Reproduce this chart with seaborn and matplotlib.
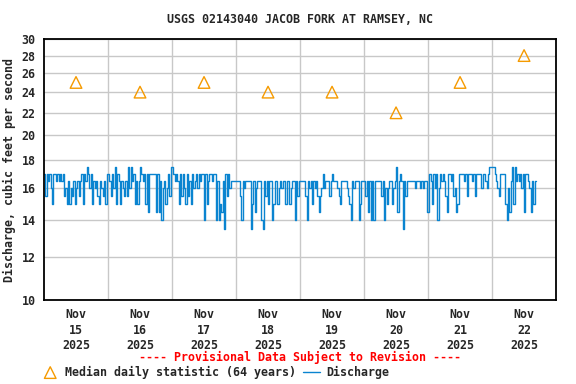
import numpy as np
import pandas as pd
import matplotlib
matplotlib.use("Agg")
import matplotlib.pyplot as plt
import seaborn as sns

# daily median statistic, one per day (plotted at noon)
median_days = ["2025-11-15", "2025-11-16", "2025-11-17", "2025-11-18",
               "2025-11-19", "2025-11-20", "2025-11-21", "2025-11-22"]
median_values = [25, 24, 25, 24, 24, 22, 25, 28]

# discharge, half-hourly, one list per day
day1 = [17.0, 15.5, 17.0, 16.5, 17.0, 16.0, 15.0, 17.0, 17.0, 16.5, 17.0, 16.5,
        17.0, 16.5, 17.0, 15.5, 16.0, 15.0, 16.5, 15.0, 16.0, 15.5, 16.5, 15.0,
        16.0, 16.5, 15.5, 16.5, 17.0, 15.0, 17.0, 16.5, 17.5, 17.0, 16.0, 17.0,
        15.0, 16.5, 16.0, 16.5, 15.5, 15.0, 16.5, 16.0, 15.5, 16.5, 15.0, 17.0]
day2 = [17.0, 16.5, 15.5, 17.0, 16.0, 17.5, 15.0, 17.0, 16.5, 15.0, 16.5, 16.0,
        15.5, 16.5, 15.5, 17.5, 16.0, 17.5, 16.5, 17.0, 15.0, 16.5, 15.0, 16.5,
        17.5, 17.0, 16.5, 17.0, 15.0, 17.0, 14.5, 17.0, 17.0, 17.0, 17.0, 17.0,
        14.5, 17.0, 14.5, 16.5, 14.0, 16.0, 16.5, 15.0, 16.0, 17.0, 15.5, 17.5]
day3 = [17.5, 17.0, 16.5, 17.0, 16.5, 15.0, 17.0, 15.5, 17.0, 16.0, 15.0, 17.0,
        15.5, 16.5, 15.0, 17.0, 16.0, 16.5, 17.0, 16.0, 17.0, 16.5, 17.0, 17.0,
        14.0, 17.0, 15.0, 16.5, 17.0, 17.0, 16.5, 17.0, 17.0, 14.0, 16.5, 14.0,
        15.0, 14.5, 16.5, 13.5, 17.0, 15.5, 17.0, 16.0, 16.5, 16.5, 16.5, 16.5]
day4 = [16.5, 16.5, 16.5, 15.5, 14.0, 16.5, 16.0, 16.5, 16.5, 16.5, 16.5, 13.5,
        15.0, 16.5, 14.5, 16.0, 16.5, 16.5, 16.5, 14.0, 13.5, 16.5, 15.5, 16.5,
        15.0, 16.5, 16.5, 14.0, 15.0, 16.5, 16.5, 15.0, 16.0, 16.5, 16.0, 16.5,
        16.5, 15.0, 16.5, 16.5, 15.0, 16.0, 16.5, 16.5, 14.0, 16.5, 15.5, 16.5]
day5 = [16.5, 16.5, 16.5, 16.5, 15.5, 14.0, 16.5, 16.0, 16.5, 15.0, 16.5, 16.0,
        16.5, 15.5, 14.5, 15.5, 16.0, 17.0, 16.0, 16.5, 16.5, 16.5, 15.5, 16.5,
        17.0, 16.5, 16.5, 16.5, 16.0, 15.5, 15.0, 16.5, 16.5, 16.5, 16.5, 16.0,
        15.5, 15.0, 14.0, 16.5, 16.0, 16.5, 16.5, 16.5, 14.0, 15.0, 16.5, 16.5]
day6 = [16.5, 15.5, 16.5, 14.5, 16.5, 14.0, 16.5, 14.0, 16.5, 16.5, 16.5, 16.5,
        16.5, 15.5, 16.5, 14.0, 16.0, 15.0, 16.0, 16.5, 16.5, 15.0, 16.0, 16.5,
        17.5, 14.5, 16.5, 17.0, 16.5, 13.5, 16.5, 15.5, 16.5, 16.5, 16.5, 16.5,
        16.5, 16.5, 16.0, 16.5, 16.5, 16.5, 16.0, 16.5, 16.0, 16.5, 16.5, 14.5]
day7 = [14.5, 17.0, 16.5, 15.0, 17.0, 16.0, 17.0, 14.0, 16.0, 17.0, 16.5, 17.0,
        16.5, 15.5, 14.5, 17.0, 17.0, 16.5, 17.0, 15.5, 16.0, 14.5, 15.0, 17.0,
        17.0, 17.0, 17.0, 16.5, 17.0, 15.5, 17.0, 17.0, 17.0, 16.5, 17.0, 15.5,
        17.0, 17.0, 17.0, 17.0, 16.0, 17.0, 17.0, 16.5, 16.0, 17.0, 17.5, 17.5]
day8 = [17.5, 17.5, 17.0, 16.5, 16.0, 15.5, 17.0, 17.0, 17.0, 17.0, 15.0, 14.0,
        16.0, 14.5, 16.5, 17.5, 15.0, 17.5, 16.5, 17.0, 16.5, 17.0, 16.0, 17.0,
        14.5, 17.0, 17.0, 16.5, 16.0, 14.5, 16.5, 15.0, 16.5, 16.5]

y_ticks = [10, 12, 14, 16, 18, 20, 22, 24, 26, 28, 30]

discharge = day1 + day2 + day3 + day4 + day5 + day6 + day7 + day8
flow = pd.DataFrame({
    "time": pd.date_range("2025-11-15 00:00", periods=len(discharge), freq="30min"),
    "discharge": discharge,
})
medians = pd.DataFrame({
    "time": pd.to_datetime(median_days) + pd.Timedelta(hours=12),
    "median": median_values,
})

sns.set_style("white")
mono = {"family": "DejaVu Sans Mono", "weight": "bold", "size": 8.4}

fig = plt.figure(figsize=(5.76, 3.84), dpi=100)
ax = fig.add_axes([0.0764, 0.219, 0.889, 0.679])

sns.lineplot(data=flow, x="time", y="discharge", ax=ax, color="#0a84d0",
             lw=1.0, drawstyle="steps-post", label="Discharge")
sns.scatterplot(data=medians, x="time", y="median", ax=ax, marker="^", s=70,
                facecolor="none", edgecolor="#f59a00", linewidth=1.0,
                label="Median daily statistic (64 years)", zorder=3)

ax.set_yscale("log")
ax.set_ylim(10, 30)
ax.set_yticks(y_ticks)
ax.set_yticklabels([str(t) for t in y_ticks], fontdict=mono)
ax.yaxis.set_minor_locator(matplotlib.ticker.NullLocator())

start = pd.Timestamp("2025-11-15")
ax.set_xlim(start, start + pd.Timedelta(days=8))
noons = [start + pd.Timedelta(days=i, hours=12) for i in range(8)]
midnights = [start + pd.Timedelta(days=i) for i in range(1, 8)]
ax.set_xticks(noons)
ax.set_xticklabels([f"Nov\n{t.day}\n2025" for t in noons], fontdict=mono, linespacing=1.25)
ax.set_xticks(midnights, minor=True)
ax.tick_params(which="both", length=0, pad=6)

ax.grid(False)
ax.grid(which="major", axis="y", color="#c8c8c8", lw=1.0)
ax.grid(which="minor", axis="x", color="#c8c8c8", lw=1.0)
for s in ax.spines.values():
    s.set_color("black")
    s.set_linewidth(1.3)

ax.set_xlabel("")
ax.set_ylabel("Discharge, cubic feet per second", fontdict=mono, labelpad=4)
fig.text(0.52, 0.948, "USGS 02143040 JACOB FORK AT RAMSEY, NC", ha="center", va="center", **mono)
fig.text(0.52, 0.068, "---- Provisional Data Subject to Revision ----", ha="center",
         va="center", color="red", **mono)

handles, labels = ax.get_legend_handles_labels()
ax.get_legend().remove()
fig.legend(handles[::-1], labels[::-1], loc="center left", bbox_to_anchor=(0.072, 0.031),
           ncol=2, frameon=False, prop=mono, handlelength=1.5, handletextpad=0.5,
           columnspacing=0.6, borderpad=0, borderaxespad=0)

fig.savefig("out.png", dpi=100)
